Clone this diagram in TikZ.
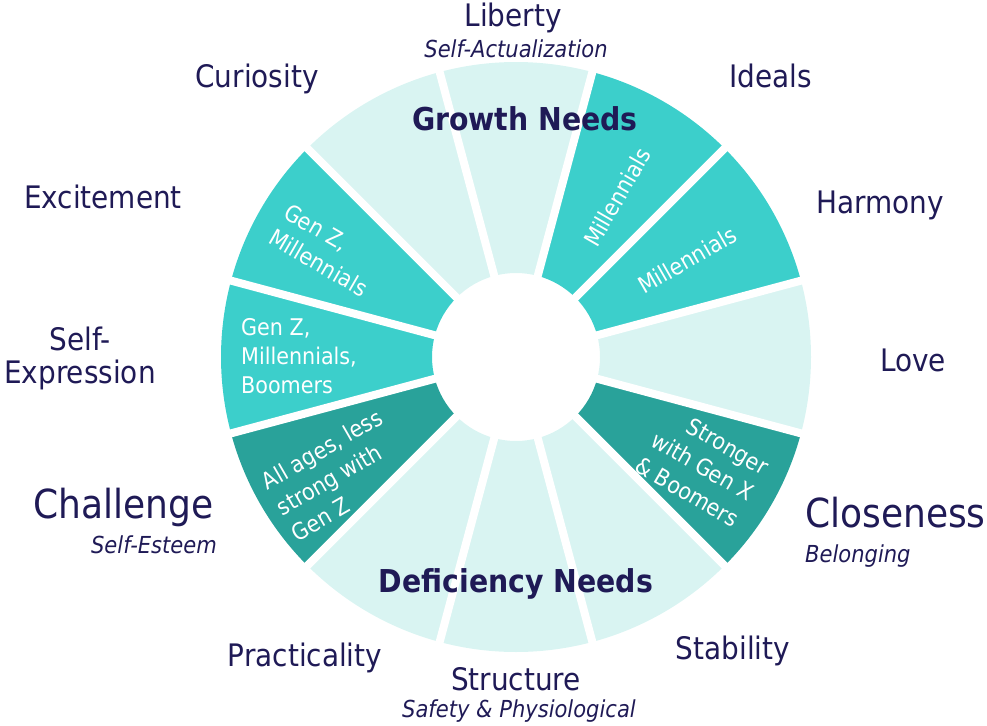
\documentclass[tikz,border=0pt]{standalone}
\usepackage{fontspec}
\setmainfont{DejaVu Sans Condensed}
\definecolor{navy}{HTML}{1F1A56}
\definecolor{segLight}{HTML}{D9F4F2}
\definecolor{segTeal}{HTML}{3CCFCB}
\definecolor{segDark}{HTML}{29A29A}
\begin{document}
\begin{tikzpicture}[x=1pt,y=1pt,
  lbl/.style={text=navy, anchor=base, inner sep=0pt, font=\fontsize{31}{36}\selectfont},
  biglbl/.style={text=navy, anchor=base, inner sep=0pt, font=\fontsize{40}{46}\selectfont},
  sublbl/.style={text=navy, anchor=base, inner sep=0pt, font=\itshape\fontsize{23.4}{28}\selectfont},
  hdr/.style={text=navy, anchor=base, inner sep=0pt, font=\bfseries\fontsize{31.5}{36}\selectfont},
  seglbl/.style={text=white, inner sep=0pt, font=\fontsize{23}{30}\selectfont},
  gap/.style={white, line width=8pt}]
\useasboundingbox (0,0) rectangle (987,-725);

% wheel of twelve sectors
\begin{scope}[shift={(516,-357)}]
  \foreach \a/\c in {90/segLight, 60/segTeal, 30/segTeal, 0/segLight,
                     -30/segDark, -60/segLight, -90/segLight, -120/segLight,
                     -150/segDark, 180/segTeal, 150/segTeal, 120/segLight}{
    \fill[\c] (\a-15:84) arc[start angle=\a-15, end angle=\a+15, radius=84]
      -- (\a+15:295) arc[start angle=\a+15, end angle=\a-15, radius=295] -- cycle;
  }
  \foreach \b in {15,45,...,345}{
    \draw[gap] (\b:70) -- (\b:305);
  }
\end{scope}

% group headings
\node[hdr] (growth) at (525,-130) {Growth Needs};
\node[hdr] (deficiency) at (516,-592) {Deficiency Needs};

% outer labels
\node[lbl] (liberty) at (513,-27) {Liberty};
\node[sublbl] (selfact) at (516,-57) {Self-Actualization};
\node[lbl] (ideals) at (771,-88) {Ideals};
\node[lbl] (harmony) at (880,-213) {Harmony};
\node[lbl] (love) at (913,-371) {Love};
\node[biglbl, anchor=base west] (closeness) at (805,-527) {Closeness};
\node[sublbl, anchor=base west] (belonging) at (805,-562) {Belonging};
\node[lbl] (stability) at (733,-659) {Stability};
\node[lbl] (structure) at (516,-690) {Structure};
\node[sublbl] (safety) at (519,-717) {Safety \& Physiological};
\node[lbl] (practicality) at (305,-666) {Practicality};
\node[biglbl, anchor=base east] (challenge) at (214,-518) {Challenge};
\node[sublbl, anchor=base east] (esteem) at (217,-553) {Self-Esteem};
\node[lbl] (selfA) at (80,-350) {Self-};
\node[lbl] (selfB) at (80,-383) {Expression};
\node[lbl] (excitement) at (103,-208) {Excitement};
\node[lbl] (curiosity) at (257,-88) {Curiosity};

% generation notes inside the sectors
\node[seglbl, rotate=60] (idealsGen) at (617,-197) {Millennials};
\node[seglbl, rotate=30] (harmonyGen) at (687,-260) {Millennials};
\node[seglbl, rotate=-30, align=right] (closenessGen) at (702,-466)
  {Stronger\\with Gen X\\\& Boomers};
\node[seglbl, rotate=30, align=left] (challengeGen) at (337,-475)
  {All ages, less\\strong with\\Gen Z};
\node[seglbl, align=left, anchor=north west, font=\fontsize{23}{29}\selectfont]
  (expressionGen) at (241,-318) {Gen Z,\\Millennials,\\Boomers};
\node[seglbl, rotate=-30, align=left] (excitementGen) at (326,-250)
  {Gen Z,\\Millennials};
\end{tikzpicture}
\end{document}
